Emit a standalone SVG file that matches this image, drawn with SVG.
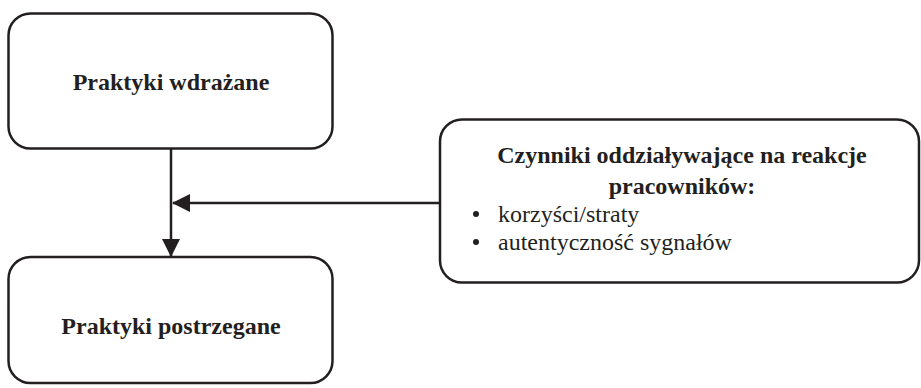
<svg xmlns="http://www.w3.org/2000/svg" width="921" height="388" viewBox="0 0 921 388">
  <style>
    .box { fill: #ffffff; stroke: #231f20; stroke-width: 2.5; }
    .title { font-family: 'Liberation Serif', serif; font-weight: bold; font-size: 24px; fill: #231f20; text-anchor: middle; }
    .item { font-family: 'Liberation Serif', serif; font-size: 24px; fill: #231f20; }
    .line { stroke: #231f20; stroke-width: 2.5; fill: none; }
  </style>
  <defs>
    <marker id="arrow" viewBox="0 0 18 18" refX="17" refY="9" markerWidth="18" markerHeight="18" markerUnits="userSpaceOnUse" orient="auto">
      <path d="M0,0 L18,9 L0,18 Z" fill="#231f20"/>
    </marker>
  </defs>
  <rect width="921" height="388" fill="#ffffff"/>

  <g id="connectors">
    <line class="line" x1="171" y1="148" x2="171" y2="256" marker-end="url(#arrow)"/>
    <line class="line" x1="440" y1="203" x2="173" y2="203" marker-end="url(#arrow)"/>
  </g>

  <g id="node-wdrazane">
    <rect class="box" x="8.5" y="13.5" width="324" height="135" rx="22"/>
    <text class="title" x="171" y="90">Praktyki wdrażane</text>
  </g>

  <g id="node-postrzegane">
    <rect class="box" x="8.5" y="257" width="324" height="126" rx="22"/>
    <text class="title" x="171" y="334">Praktyki postrzegane</text>
  </g>

  <g id="node-czynniki">
    <rect class="box" x="440" y="119.5" width="479" height="163" rx="22"/>
    <text class="title" x="682" y="163">Czynniki oddziaływające na reakcje</text>
    <text class="title" x="682" y="194">pracowników:</text>
    <circle cx="476" cy="214" r="3" fill="#231f20"/>
    <text class="item" x="498" y="222">korzyści/straty</text>
    <circle cx="476" cy="242" r="3" fill="#231f20"/>
    <text class="item" x="498" y="250">autentyczność sygnałów</text>
  </g>
</svg>
